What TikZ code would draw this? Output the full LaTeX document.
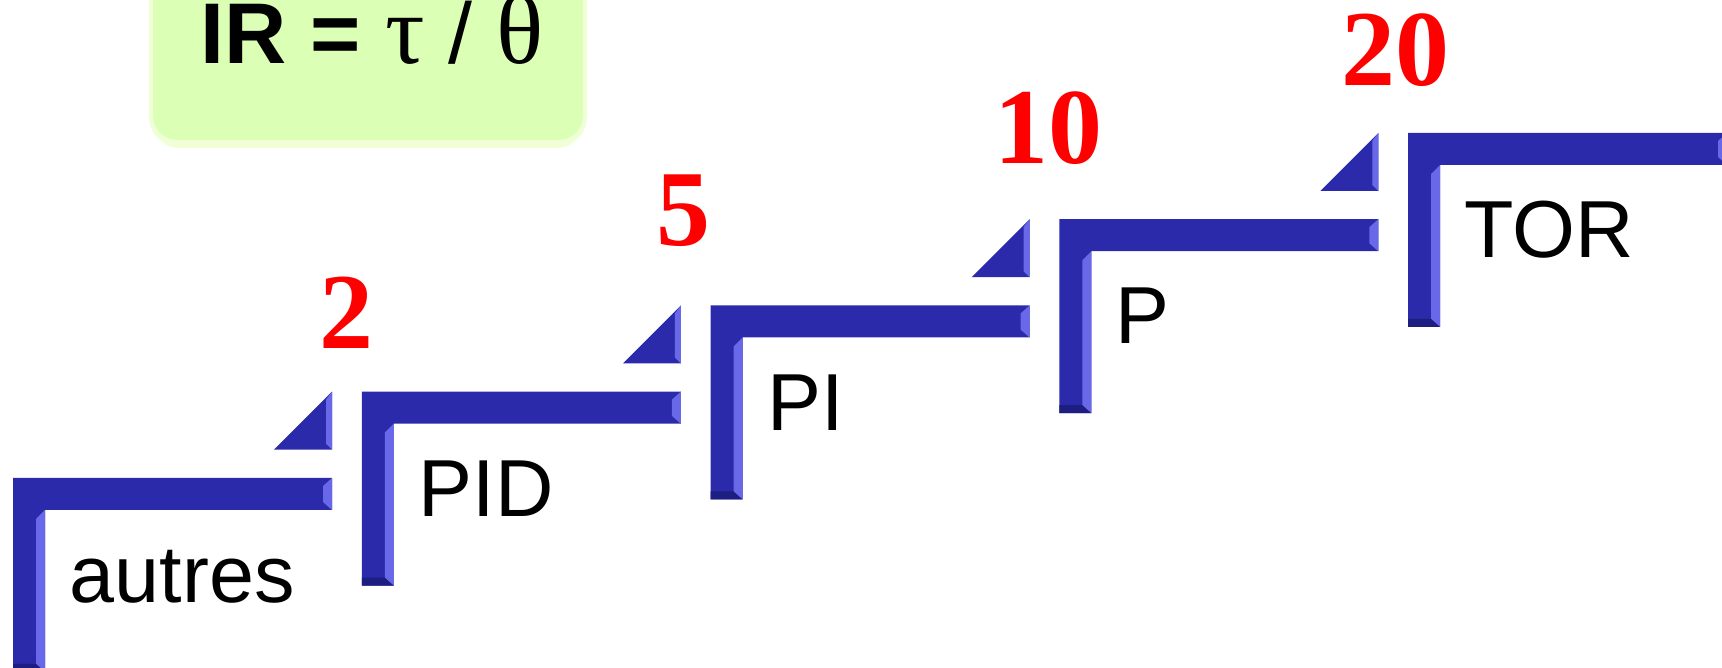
\documentclass[tikz,border=0pt]{standalone}
\usepackage{fontspec}
\setmainfont{Liberation Sans}
\newfontfamily\numfont{Liberation Serif}
\usepackage{tikz}
\usetikzlibrary{positioning}
\definecolor{barblue}{RGB}{42,42,170}
\definecolor{bevellight}{RGB}{104,104,232}
\definecolor{beveldark}{RGB}{30,30,128}
\definecolor{titlegreen}{RGB}{218,255,181}
\definecolor{titleglow}{RGB}{240,255,214}
\definecolor{numred}{RGB}{255,0,0}

\tikzset{
  stair/.pic={
    \fill[barblue] (0,0) -- (319,0) -- (319,32) -- (32,32) -- (32,194) -- (0,194) -- cycle;
    \fill[bevellight] (23,41) -- (32,32) -- (32,194) -- (23,186) -- cycle;
    \fill[bevellight] (310,8) -- (319,0) -- (319,32) -- (310,24) -- cycle;
    \fill[beveldark] (0,186) -- (23,186) -- (32,194) -- (0,194) -- cycle;
  },
  wedge/.pic={
    \fill[barblue] (0,0) -- (0,58) -- (-58,58) -- cycle;
    \fill[bevellight] (-6,8) -- (0,0) -- (0,58) -- (-6,52) -- cycle;
  },
  stairlabel/.style={anchor=base west,inner sep=0pt,font=\fontsize{23}{26}\selectfont},
  rate/.style={anchor=base,inner sep=0pt,text=numred,font=\numfont\bfseries\fontsize{30.7}{34}\selectfont}
}
\newcommand\greek[1]{{\numfont\fontsize{28}{28}\selectfont #1}}

\begin{document}
\begin{tikzpicture}[x=0.01cm,y=-0.01cm]
\useasboundingbox (0,0) rectangle (1722,668);
% title box
\fill[titleglow,rounded corners=9pt] (149,-40) rectangle (587,148);
\fill[titlegreen,rounded corners=7pt] (153,-40) rectangle (583,140);
\node[anchor=base west,inner sep=0pt,font=\fontsize{24.5}{30}\selectfont] (title) at (200,64) {\textbf{IR =} \greek{τ} / \greek{θ}};
% steps
\pic (s0) at (13,478) {stair};
\pic (s1) at (361.75,391.75) {stair};
\pic (s2) at (710.5,305.5) {stair};
\pic (s3) at (1059.25,219.25) {stair};
\pic (s4) at (1408,133) {stair};
\pic (w0) at (332,391.75) {wedge};
\pic (w1) at (680.75,305.5) {wedge};
\pic (w2) at (1029.5,219.25) {wedge};
\pic (w3) at (1378.25,133) {wedge};
% labels
\node[stairlabel] (autres) at (69,603) {autres};
\node[stairlabel] (pid) at (418,517) {PID};
\node[stairlabel] (pi) at (766.5,430.5) {PI};
\node[stairlabel] (p) at (1115,344) {P};
\node[stairlabel] (tor) at (1464,258) {TOR};
\node[rate] (n2) at (346,349) {2};
\node[rate] (n5) at (683,246) {5};
\node[rate] (n10) at (1048,164) {10};
\node[rate] (n20) at (1395,86) {20};
\end{tikzpicture}
\end{document}
